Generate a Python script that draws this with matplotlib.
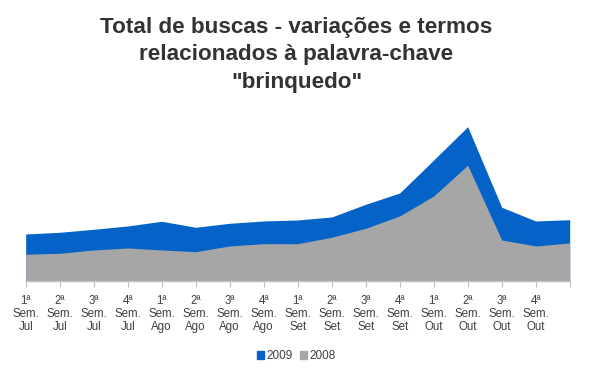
import matplotlib.pyplot as plt
import numpy as np
from matplotlib.patches import Patch

plt.rcParams['font.family'] = ['Liberation Sans', 'DejaVu Sans']

weeks = ["1ª", "2ª", "3ª", "4ª"]
months = ["Jul", "Ago", "Set", "Out"]
labels = [f"{w}\nSem.\n{m}" for m in months for w in weeks] + [""]

# valores (escala relativa)
v2008 = [26.4, 27.4, 30.7, 32.7, 30.7, 29.0, 34.7, 37.0, 37.0,
         43.4, 52.4, 64.7, 84.7, 115.4, 40.7, 34.7, 37.7]
v2009 = [46.7, 48.4, 51.4, 54.7, 59.4, 53.4, 57.4, 59.7, 60.7,
         63.7, 76.4, 87.7, 120.7, 154.0, 73.4, 59.7, 61.0]

BLUE = "#0563c8"
GRAY = "#a6a6a6"

fig = plt.figure(figsize=(5.93, 3.70), dpi=100)
ax = fig.add_axes([0.0433, 0.2414, 0.9174, 0.4614])

x = np.arange(len(v2008))
ax.fill_between(x, 0, v2009, color=BLUE, linewidth=0)
ax.fill_between(x, 0, v2008, color=GRAY, linewidth=0)

ax.set_xlim(0, len(x) - 1)
ax.set_ylim(0, 170.7)
for s in ["top", "left", "right"]:
    ax.spines[s].set_visible(False)
ax.spines['bottom'].set_color("#bfbfbf")
ax.spines['bottom'].set_linewidth(1)
ax.set_yticks([])
ax.set_xticks(x)
ax.set_xticklabels(labels, fontsize=8.3, color="#404040", linespacing=1.15)
ax.tick_params(axis='x', length=4, color="#bfbfbf", pad=6)

fig.text(0.5, 0.955, 'Total de buscas - variações e termos\nrelacionados à palavra-chave\n"brinquedo"',
         ha="center", va="top", fontsize=16.2, fontweight="bold", color="#333333",
         linespacing=1.42)

handles = [Patch(color=BLUE, label="2009"), Patch(color=GRAY, label="2008")]
fig.legend(handles=handles, loc="center", bbox_to_anchor=(0.5, 0.038), ncol=2,
           frameon=False, fontsize=8.5, handlelength=0.6, handleheight=0.6,
           handletextpad=0.2, columnspacing=0.6, labelcolor="#404040")

fig.savefig("out.png", dpi=100)
